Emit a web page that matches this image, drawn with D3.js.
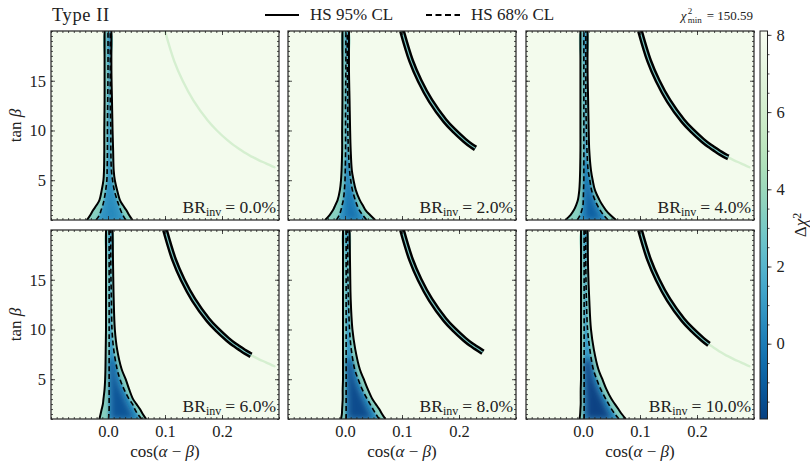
<!DOCTYPE html>
<html>
<head>
<meta charset="utf-8">
<script src="https://cdn.jsdelivr.net/npm/d3@7"></script>
<style>
body { margin: 0; background: #fff; }
text { font-family: "Liberation Serif", "DejaVu Serif", serif; fill: #222; }
</style>
</head>
<body>
<div id="chart"></div>
<script>
// panel labels, one per BR_inv value
var brLabels = ["0.0%", "2.0%", "4.0%", "6.0%", "8.0%", "10.0%"];

// tan(beta) values where the contour edges were read
var tanGrid = [1, 1.5, 2, 2.5, 3, 4, 5, 6, 8, 10, 13, 16, 20];

// HS 95% CL contour, left and right edge in cos(alpha-beta)
var outerLeft = [
    [-0.037, -0.031, -0.026, -0.020, -0.015, -0.011, -0.008, -0.007, -0.0065, -0.0065, -0.006, -0.006, -0.006],
    [-0.035, -0.027, -0.021, -0.017, -0.013, -0.009, -0.007, -0.006, -0.005, -0.005, -0.0045, -0.0045, -0.0045],
    [-0.031, -0.022, -0.016, -0.012, -0.009, -0.0065, -0.0055, -0.005, -0.0045, -0.0045, -0.0045, -0.0045, -0.0045],
    [-0.015, -0.013, -0.011, -0.009, -0.008, -0.006, -0.005, -0.0045, -0.004, -0.0035, -0.0035, -0.0035, -0.0035],
    [-0.007, -0.0055, -0.005, -0.0045, -0.004, -0.004, -0.0035, -0.0035, -0.0035, -0.0035, -0.0035, -0.0035, -0.0035],
    [-0.006, -0.005, -0.0045, -0.004, -0.004, -0.004, -0.0035, -0.0035, -0.0035, -0.0035, -0.0035, -0.0035, -0.0035]
];
var outerRight = [
    [0.043, 0.037, 0.032, 0.026, 0.021, 0.016, 0.012, 0.010, 0.009, 0.008, 0.007, 0.006, 0.006],
    [0.053, 0.044, 0.036, 0.031, 0.026, 0.019, 0.015, 0.012, 0.010, 0.009, 0.008, 0.007, 0.007],
    [0.058, 0.048, 0.040, 0.034, 0.029, 0.021, 0.017, 0.014, 0.011, 0.010, 0.009, 0.008, 0.008],
    [0.067, 0.061, 0.056, 0.050, 0.044, 0.037, 0.031, 0.024, 0.016, 0.012, 0.010, 0.009, 0.008],
    [0.071, 0.065, 0.060, 0.054, 0.048, 0.040, 0.033, 0.026, 0.018, 0.013, 0.010, 0.009, 0.008],
    [0.075, 0.068, 0.062, 0.056, 0.050, 0.041, 0.034, 0.027, 0.019, 0.014, 0.011, 0.009, 0.008]
];

// HS 68% CL contour
var innerLeft = [
    [-0.021, -0.015, -0.012, -0.009, -0.007, -0.004, -0.002, -0.0015, -0.001, -0.001, -0.0005, 0.0, 0.0],
    [-0.015, -0.010, -0.007, -0.005, -0.003, -0.001, 0.0, 0.0005, 0.001, 0.001, 0.001, 0.0015, 0.0015],
    [-0.010, -0.005, -0.002, 0.0, 0.0005, 0.001, 0.0015, 0.0015, 0.0015, 0.0015, 0.0015, 0.0015, 0.0015],
    [0.001, 0.0015, 0.002, 0.002, 0.002, 0.002, 0.002, 0.002, 0.002, 0.002, 0.002, 0.002, 0.002],
    [0.002, 0.002, 0.002, 0.002, 0.002, 0.002, 0.002, 0.002, 0.002, 0.002, 0.002, 0.002, 0.002],
    [0.002, 0.002, 0.002, 0.002, 0.002, 0.002, 0.002, 0.002, 0.002, 0.002, 0.002, 0.002, 0.002]
];
var innerRight = [
    [0.031, 0.026, 0.022, 0.019, 0.016, 0.011, 0.008, 0.006, 0.005, 0.005, 0.004, 0.004, 0.004],
    [0.038, 0.031, 0.025, 0.021, 0.018, 0.013, 0.010, 0.008, 0.006, 0.005, 0.005, 0.004, 0.004],
    [0.044, 0.036, 0.030, 0.025, 0.021, 0.015, 0.012, 0.009, 0.007, 0.006, 0.005, 0.005, 0.005],
    [0.059, 0.052, 0.047, 0.043, 0.037, 0.028, 0.021, 0.016, 0.010, 0.007, 0.006, 0.005, 0.005],
    [0.060, 0.054, 0.049, 0.044, 0.039, 0.030, 0.023, 0.017, 0.011, 0.008, 0.006, 0.005, 0.005],
    [0.063, 0.056, 0.050, 0.045, 0.040, 0.031, 0.024, 0.018, 0.012, 0.008, 0.006, 0.005, 0.005]
];

// dark core near the best fit
var coreTan = [1, 2, 3, 5, 7];
var coreLeft = [
    [-0.008, -0.003, 0.0, 0.002, 0.002],
    [-0.002, 0.0, 0.001, 0.002, 0.002],
    [0.002, 0.003, 0.003, 0.003, 0.003],
    [0.005, 0.005, 0.005, 0.004, 0.004],
    [0.005, 0.005, 0.005, 0.004, 0.004],
    [0.005, 0.005, 0.005, 0.004, 0.004]
];
var coreRight = [
    [0.020, 0.014, 0.010, 0.005, 0.004],
    [0.028, 0.020, 0.015, 0.008, 0.005],
    [0.035, 0.025, 0.018, 0.010, 0.006],
    [0.048, 0.038, 0.030, 0.016, 0.009],
    [0.050, 0.040, 0.032, 0.018, 0.010],
    [0.052, 0.042, 0.034, 0.019, 0.011]
];
var coreChi = [0.4, -0.3, -0.9, -1.3, -1.6, -1.85];

// second (wrong-sign) branch
var arcTan = [20, 17, 15, 13, 11, 10, 9, 8.5, 8.2, 7.7, 7.4, 7.3, 7, 6.7, 6.3];
var arcCos = [0.100, 0.116, 0.131, 0.150, 0.175, 0.191, 0.210, 0.221, 0.229, 0.242, 0.251, 0.255, 0.265, 0.277, 0.292];
var arcEnd = [null, 8.2, 7.3, 7.4, 7.7, 8.5];     // where the 95% band stops
var arcTail = [true, false, true, true, false, true];

var chiMin = "150.59";

var W = 810, H = 463;
var panelW = 228, panelH = 189;
var colX = [51, 288, 526], rowY = [31, 230];

var svg = d3.select('#chart')
    .append('svg')
    .attr('width', W)
    .attr('height', H);
var defs = svg.append('defs');

var cMin = -1.95, cMax = 8.1;
var color = d3.scaleSequential(d3.interpolateGnBu).domain([cMax, cMin]);

[1.2, 3].forEach(function (s, k) {
    defs.append('filter')
        .attr('id', 'blur' + k)
        .attr('x', '-100%').attr('y', '-20%')
        .attr('width', '300%').attr('height', '140%')
        .append('feGaussianBlur')
        .attr('stdDeviation', s);
});

var x = d3.scaleLinear().domain([-0.1, 0.3]);
var y = d3.scaleLinear().domain([1, 20]);

var edge = d3.line()
    .x(function (d) { return x(d[0]); })
    .y(function (d) { return y(d[1]); })
    .curve(d3.curveCatmullRom);

function pairs(cs, ts) {
    return ts.map(function (t, k) { return [cs[k], t]; });
}

function region(left, right, ts) {
    return edge(pairs(left, ts).concat(pairs(right, ts).reverse())) + 'Z';
}

function styleAxis(sel, size) {
    sel.selectAll('.domain').remove();
    sel.selectAll('.tick line').attr('stroke', '#222').attr('stroke-width', 0.8);
    sel.selectAll('.tick text')
        .attr('font-family', '"Liberation Serif", serif')
        .attr('font-size', size)
        .attr('fill', '#222');
}

brLabels.forEach(function (label, i) {
    var col = i % 3, row = Math.floor(i / 3);
    var x0 = colX[col], y0 = rowY[row];
    x.range([x0, x0 + panelW]);
    y.range([y0 + panelH, y0]);

    defs.append('clipPath').attr('id', 'clip' + i)
        .append('rect')
        .attr('x', x0).attr('y', y0)
        .attr('width', panelW).attr('height', panelH);

    var g = svg.append('g').attr('clip-path', 'url(#clip' + i + ')');

    g.append('rect')
        .attr('x', x0).attr('y', y0)
        .attr('width', panelW).attr('height', panelH)
        .attr('fill', color(7.9));

    // funnel around the alignment limit
    var outer = region(outerLeft[i], outerRight[i], tanGrid);
    defs.append('clipPath').attr('id', 'fun' + i)
        .append('path').attr('d', outer);

    var fill = g.append('g').attr('clip-path', 'url(#fun' + i + ')');
    fill.append('path').attr('d', outer).attr('fill', color(3.4));
    fill.append('path')
        .attr('d', region(innerLeft[i], innerRight[i], tanGrid))
        .attr('fill', color(1.0))
        .attr('filter', 'url(#blur0)');
    fill.append('path')
        .attr('d', region(coreLeft[i], coreRight[i], coreTan))
        .attr('fill', color(coreChi[i]))
        .attr('filter', 'url(#blur1)');

    [outerLeft[i], outerRight[i]].forEach(function (cs) {
        g.append('path')
            .attr('d', edge(pairs(cs, tanGrid)))
            .attr('fill', 'none')
            .attr('stroke', '#000')
            .attr('stroke-width', 2);
    });
    [innerLeft[i], innerRight[i]].forEach(function (cs) {
        g.append('path')
            .attr('d', edge(pairs(cs, tanGrid)))
            .attr('fill', 'none')
            .attr('stroke', '#000')
            .attr('stroke-width', 1.6)
            .attr('stroke-dasharray', '5,3');
    });

    // second branch
    var arcPts = pairs(arcCos, arcTan);
    var end = arcEnd[i];
    if (arcTail[i]) {
        var tail = end === null ? arcPts : arcPts.filter(function (d) { return d[1] <= end; });
        g.append('path')
            .attr('d', edge(tail))
            .attr('fill', 'none')
            .attr('stroke', color(6.2))
            .attr('stroke-width', 2.4)
            .attr('stroke-linecap', 'round');
    }
    if (end !== null) {
        var band = arcPts.filter(function (d) { return d[1] >= end; });
        g.append('path')
            .attr('d', edge(band))
            .attr('fill', 'none')
            .attr('stroke', '#000')
            .attr('stroke-width', 6);
        g.append('path')
            .attr('d', edge(band))
            .attr('fill', 'none')
            .attr('stroke', color(3.0))
            .attr('stroke-width', 1.1);
    }

    // BR label
    var br = svg.append('text')
        .attr('x', x0 + panelW - 3)
        .attr('y', y0 + panelH - 7)
        .attr('text-anchor', 'end')
        .attr('font-size', 17.5);
    br.append('tspan').text('BR');
    br.append('tspan').attr('baseline-shift', '-25%').attr('font-size', 12).text('inv');
    br.append('tspan').attr('dx', 4).text('= ' + label);

    // axes, ticks pointing inward on all sides
    var ax = svg.append('g');
    var xMinor = d3.range(-10, 31).map(function (k) { return k / 100; });
    var yMinor = d3.range(2, 41).map(function (k) { return k / 2; });
    var showX = row === 1, showY = col === 0;

    ax.append('g').attr('transform', 'translate(0,' + (y0 + panelH) + ')')
        .call(d3.axisBottom(x).tickValues([0, 0.1, 0.2]).tickSize(-4).tickPadding(6)
            .tickFormat(showX ? d3.format('.1f') : ''));
    ax.append('g').attr('transform', 'translate(0,' + (y0 + panelH) + ')')
        .call(d3.axisBottom(x).tickValues(xMinor).tickSize(-2).tickFormat(''));
    ax.append('g').attr('transform', 'translate(0,' + y0 + ')')
        .call(d3.axisTop(x).tickValues([0, 0.1, 0.2]).tickSize(-4).tickFormat(''));
    ax.append('g').attr('transform', 'translate(0,' + y0 + ')')
        .call(d3.axisTop(x).tickValues(xMinor).tickSize(-2).tickFormat(''));
    ax.append('g').attr('transform', 'translate(' + x0 + ',0)')
        .call(d3.axisLeft(y).tickValues([5, 10, 15]).tickSize(-4).tickPadding(5)
            .tickFormat(showY ? d3.format('d') : ''));
    ax.append('g').attr('transform', 'translate(' + x0 + ',0)')
        .call(d3.axisLeft(y).tickValues(yMinor).tickSize(-2).tickFormat(''));
    ax.append('g').attr('transform', 'translate(' + (x0 + panelW) + ',0)')
        .call(d3.axisRight(y).tickValues([5, 10, 15]).tickSize(-4).tickFormat(''));
    ax.append('g').attr('transform', 'translate(' + (x0 + panelW) + ',0)')
        .call(d3.axisRight(y).tickValues(yMinor).tickSize(-2).tickFormat(''));
    styleAxis(ax, 16.5);

    svg.append('rect')
        .attr('x', x0).attr('y', y0)
        .attr('width', panelW).attr('height', panelH)
        .attr('fill', 'none')
        .attr('stroke', '#222')
        .attr('stroke-width', 1.2);

    if (showX) {
        var xl = svg.append('text')
            .attr('x', x0 + panelW / 2)
            .attr('y', 457)
            .attr('text-anchor', 'middle')
            .attr('font-size', 17);
        xl.append('tspan').text('cos(');
        xl.append('tspan').attr('font-style', 'italic').text('α');
        xl.append('tspan').text(' − ');
        xl.append('tspan').attr('font-style', 'italic').text('β');
        xl.append('tspan').text(')');
    }
    if (showY) {
        var yl = svg.append('text')
            .attr('transform', 'translate(21,' + (y0 + panelH / 2) + ') rotate(-90)')
            .attr('text-anchor', 'middle')
            .attr('font-size', 17);
        yl.append('tspan').text('tan ');
        yl.append('tspan').attr('font-style', 'italic').text('β');
    }
});

// colour bar
var cbX = 760, cbW = 7.5, cbTop = 31, cbBot = 419;
var cScale = d3.scaleLinear().domain([cMin, cMax]).range([cbBot, cbTop]);
var grad = defs.append('linearGradient')
    .attr('id', 'cbar')
    .attr('x1', 0).attr('y1', 1).attr('x2', 0).attr('y2', 0);
d3.range(0, 21).forEach(function (k) {
    var v = cMin + (cMax - cMin) * k / 20;
    grad.append('stop').attr('offset', (k * 5) + '%').attr('stop-color', color(v));
});
svg.append('rect')
    .attr('x', cbX).attr('y', cbTop)
    .attr('width', cbW).attr('height', cbBot - cbTop)
    .attr('fill', 'url(#cbar)')
    .attr('stroke', '#222')
    .attr('stroke-width', 1);
var cax = svg.append('g');
cax.append('g').attr('transform', 'translate(' + (cbX + cbW) + ',0)')
    .call(d3.axisRight(cScale).tickValues([0, 2, 4, 6, 8]).tickSize(4).tickPadding(5));
cax.append('g').attr('transform', 'translate(' + (cbX + cbW) + ',0)')
    .call(d3.axisRight(cScale).tickValues(d3.range(-3, 17).map(function (k) { return k / 2; })).tickSize(2).tickFormat(''));
styleAxis(cax, 16.5);

var cl = svg.append('text')
    .attr('transform', 'translate(806,' + ((cbTop + cbBot) / 2) + ') rotate(-90)')
    .attr('text-anchor', 'middle')
    .attr('font-size', 17);
cl.append('tspan').text('Δ');
cl.append('tspan').attr('font-style', 'italic').text('χ');
cl.append('tspan').attr('baseline-shift', '40%').attr('font-size', 12).text('2');

// title and legend
svg.append('text')
    .attr('x', 52).attr('y', 21)
    .attr('font-size', 18.5)
    .attr('letter-spacing', 0.6)
    .text('Type II');

var legendItems = [
    { label: 'HS 95% CL', dash: null, x: 265 },
    { label: 'HS 68% CL', dash: '6,3.5', x: 426 }
];
legendItems.forEach(function (d) {
    svg.append('line')
        .attr('x1', d.x).attr('x2', d.x + 34)
        .attr('y1', 15).attr('y2', 15)
        .attr('stroke', '#000')
        .attr('stroke-width', 2)
        .attr('stroke-dasharray', d.dash);
    svg.append('text')
        .attr('x', d.x + 45).attr('y', 20)
        .attr('font-size', 17)
        .text(d.label);
});

var chiText = svg.append('text')
    .attr('x', 753).attr('y', 20)
    .attr('text-anchor', 'end')
    .attr('font-size', 13)
    .text('= ' + chiMin);
var chiW = chiText.node().getComputedTextLength();
svg.append('text')
    .attr('x', 753 - chiW - 26).attr('y', 20)
    .attr('font-size', 13)
    .attr('font-style', 'italic')
    .text('χ');
svg.append('text')
    .attr('x', 753 - chiW - 19).attr('y', 14)
    .attr('font-size', 9)
    .text('2');
svg.append('text')
    .attr('x', 753 - chiW - 19).attr('y', 23)
    .attr('font-size', 9)
    .text('min');
</script>
</body>
</html>
